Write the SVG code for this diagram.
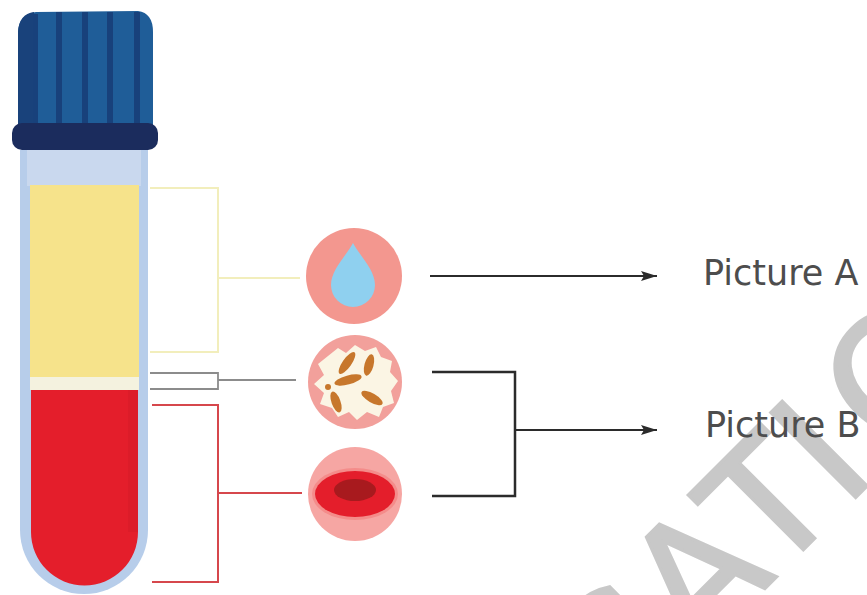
<svg xmlns="http://www.w3.org/2000/svg" width="867" height="595" viewBox="0 0 867 595">
  <style>
    .label { font-family: "DejaVu Sans", "Liberation Sans", sans-serif; font-size: 35px; fill: #4d4d4d; }
    .mark { font-family: "DejaVu Sans", "Liberation Sans", sans-serif; font-size: 165px; fill: #c8c8c8; stroke: #c8c8c8; stroke-width: 3; }
    .link { fill: none; stroke: #2b2b2b; stroke-width: 2.5; }
    .arrow { fill: none; stroke: #2b2b2b; stroke-width: 2; }
    .stripe { fill: #18417b; }
    .rod { fill: #c7772c; }
  </style>
  <defs>
    <marker id="head" viewBox="0 0 16 10" refX="16" refY="5" markerWidth="16" markerHeight="10" markerUnits="userSpaceOnUse" orient="auto">
      <path d="M0,0 L16,5 L0,10 L3,5 Z" fill="#2b2b2b"/>
    </marker>
  </defs>
  <rect width="867" height="595" fill="#ffffff"/>

  <!-- Watermark lettering -->
  <text class="mark" transform="rotate(-45)" x="-90 30 137 237 305" y="957">CATIO</text>

  <!-- Test tube -->
  <g id="tube">
    <path d="M20,150 H148 V530 A64,64 0 0 1 20,530 Z" fill="#b7cdea"/>
    <rect x="27" y="150" width="114" height="36" fill="#c9d8ee"/>
    <rect x="30" y="185" width="109" height="192" fill="#f6e38b"/>
    <rect x="30" y="377" width="109" height="13" fill="#f4f2df"/>
    <path d="M31,390 H138 V532 A53.5,53.5 0 0 1 31,532 Z" fill="#e41e2b"/>
    <rect x="128" y="390" width="10" height="142" fill="#d31b28" opacity="0.45"/>
  </g>

  <!-- Tube cap -->
  <g id="cap">
    <path d="M18,32 Q19,14 36,12 L138,11 Q153,13 153,32 L153,126 L18,126 Z" fill="#1f5d98"/>
    <path d="M18,32 Q19,14 34,12 L34,126 L18,126 Z" fill="#19427b"/>
    <rect class="stripe" x="33" y="14" width="5" height="112"/>
    <rect class="stripe" x="56" y="12" width="6" height="114"/>
    <rect class="stripe" x="82" y="12" width="6" height="114"/>
    <rect class="stripe" x="107" y="12" width="6" height="114"/>
    <rect class="stripe" x="134" y="12" width="6" height="114"/>
    <rect x="12" y="123" width="146" height="27" rx="10" fill="#1b2c5d"/>
  </g>

  <!-- Layer brackets from the tube -->
  <g id="brackets">
    <path d="M150,188 H218 V352 H150 M218,278 H300" fill="none" stroke="#f2eebc" stroke-width="2"/>
    <path d="M150,373 H218 V389 H150 M218,380 H296" fill="none" stroke="#8c8c8c" stroke-width="1.8"/>
    <path d="M152,405 H218 V582 H152 M218,493 H302" fill="none" stroke="#d6474c" stroke-width="2"/>
  </g>

  <!-- Plasma: water drop -->
  <g id="plasma">
    <circle cx="354" cy="276" r="48" fill="#f3978f"/>
    <path d="M353,243 C346,256 331,270 331,285 A22,22 0 0 0 375,285 C375,270 360,256 353,243 Z" fill="#8fd0ef"/>
  </g>

  <!-- Buffy coat: platelets and white cells -->
  <g id="buffy">
    <circle cx="355" cy="382" r="47" fill="#f2a09b"/>
    <path d="M328,356 L338,348 L346,353 L355,345 L365,351 L376,347 L381,357 L392,361 L390,372 L398,381 L391,391 L394,403 L383,407 L379,417 L367,412 L357,420 L349,412 L338,417 L332,408 L320,404 L324,393 L314,384 L324,375 L318,364 Z" fill="#fbf5e4"/>
    <ellipse class="rod" cx="347" cy="363" rx="13" ry="4.5" transform="rotate(-55 347 363)"/>
    <ellipse class="rod" cx="369" cy="365" rx="11" ry="4.5" transform="rotate(-75 369 365)"/>
    <ellipse class="rod" cx="348" cy="380" rx="14" ry="4.5" transform="rotate(-15 348 380)"/>
    <ellipse class="rod" cx="336" cy="402" rx="11" ry="4.5" transform="rotate(70 336 402)"/>
    <ellipse class="rod" cx="372" cy="398" rx="12" ry="4.5" transform="rotate(30 372 398)"/>
    <circle class="rod" cx="328" cy="387" r="3"/>
  </g>

  <!-- Red blood cell -->
  <g id="rbc">
    <circle cx="355" cy="494" r="47" fill="#f6a6a3"/>
    <ellipse cx="355" cy="494" rx="43" ry="26" fill="#f48c8a"/>
    <ellipse cx="355" cy="494" rx="40" ry="23" fill="#e41e2b"/>
    <ellipse cx="355" cy="490" rx="21" ry="11" fill="#a81a1e"/>
  </g>

  <!-- Connectors -->
  <g id="connectors">
    <line class="arrow" x1="430" y1="276" x2="657" y2="276" marker-end="url(#head)"/>
    <path class="link" d="M432,372 H515 V496 H432"/>
    <line class="arrow" x1="515" y1="430" x2="657" y2="430" marker-end="url(#head)"/>
  </g>

  <!-- Labels -->
  <g id="label-a"><text class="label" x="703" y="285">Picture A</text></g>
  <g id="label-b"><text class="label" x="705" y="437">Picture B</text></g>
</svg>
